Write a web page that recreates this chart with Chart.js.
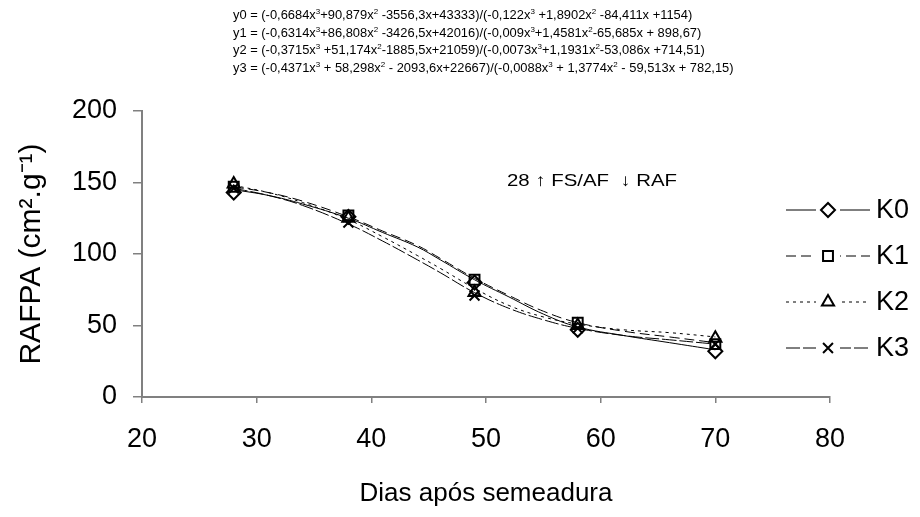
<!DOCTYPE html>
<html>
<head>
<meta charset="utf-8">
<script src="https://cdn.jsdelivr.net/npm/chart.js@4.4.1/dist/chart.umd.min.js"></script>
<style>
  html, body { margin: 0; padding: 0; background: #fff; }
  #wrap { position: relative; width: 920px; height: 517px; }
  #eq {
    position: absolute; left: 233px; top: 6px;
    font-family: "Liberation Sans", Arial, sans-serif; font-size: 12.9px; line-height: 17.5px;
    color: #000; white-space: nowrap;
  }
  #eq sup { font-size: 8px; line-height: 0; vertical-align: 5px; }
  #nota {
    position: absolute; left: 507px; top: 171px;
    font-family: "Liberation Sans", Arial, sans-serif; font-size: 17px; color: #000; white-space: nowrap;
    transform: scaleX(1.2); transform-origin: left top;
  }
</style>
</head>
<body>
<div id="wrap">
  <canvas id="myChart" width="920" height="517"></canvas>
  <div id="eq">
    <div>y0 = (-0,6684x<sup>3</sup>+90,879x<sup>2</sup> -3556,3x+43333)/(-0,122x<sup>3</sup> +1,8902x<sup>2</sup> -84,411x +1154)</div>
    <div>y1 = (-0,6314x<sup>3</sup>+86,808x<sup>2</sup> -3426,5x+42016)/(-0,009x<sup>3</sup>+1,4581x<sup>2</sup>-65,685x + 898,67)</div>
    <div>y2 = (-0,3715x<sup>3</sup> +51,174x<sup>2</sup>-1885,5x+21059)/(-0,0073x<sup>3</sup>+1,1931x<sup>2</sup>-53,086x +714,51)</div>
    <div>y3 = (-0,4371x<sup>3</sup> + 58,298x<sup>2</sup> - 2093,6x+22667)/(-0,0088x<sup>3</sup> + 1,3774x<sup>2</sup> - 59,513x + 782,15)</div>
  </div>
  <div id="nota">28 ↑ FS/AF&nbsp; ↓ RAF</div>
</div>
<script>
// dados observados
const dias = [28, 38, 49, 58, 70];
const k0 = [143, 126, 80, 47, 32];
const k1 = [147, 127, 82, 52, 37];
const k2 = [149, 125, 73, 50, 41];
const k3 = [146, 122, 71, 48, 37];

// curvas ajustadas
const curvaX = [28, 31, 34, 38, 41, 44, 46, 49, 52, 55, 58, 62, 66, 70];
const curvaK0 = [145, 141, 135, 125, 115, 105, 96, 82, 70, 58, 49, 43, 38, 33];
const curvaK1 = [147, 143, 137, 126, 116, 106, 97, 83, 71, 60, 52, 46, 42, 38];
const curvaK2 = [148, 143, 136, 124, 112, 99, 90, 76, 64, 56, 51, 47, 45, 42];
const curvaK3 = [146, 141, 134, 121, 109, 96, 87, 73, 62, 54, 48, 43, 40, 37];

const nomes = ["K0", "K1", "K2", "K3"];
const marcadores = ["rectRot", "rect", "triangle", "crossRot"];
const tracos = [[], [10, 5], [3, 4], [14, 3]];

const pontos = (xs, ys) => xs.map((x, i) => ({ x: x, y: ys[i] }));

const serieObs = [k0, k1, k2, k3];
const serieCurva = [curvaK0, curvaK1, curvaK2, curvaK3];

let datasets = [];
for (let i = 0; i < 4; i++) {
  datasets.push({
    label: nomes[i] + " ajuste",
    data: pontos(curvaX, serieCurva[i]),
    showLine: true,
    borderColor: "#000",
    borderWidth: 1,
    borderDash: tracos[i],
    pointRadius: 0,
    tension: 0.4,
    order: 2,
  });
}
for (let i = 0; i < 4; i++) {
  datasets.push({
    label: nomes[i],
    data: pontos(dias, serieObs[i]),
    showLine: false,
    pointStyle: marcadores[i],
    pointRadius: 7,
    pointBorderWidth: 2,
    pointBorderColor: "#000",
    pointBackgroundColor: "rgba(255,255,255,0)",
    order: 1,
  });
}

// legenda desenhada a mao: linha + marcador + texto
const legendaManual = {
  id: "legendaManual",
  afterDraw(chart) {
    const ctx = chart.ctx;
    const ys = [210, 256, 302, 348];
    for (let i = 0; i < 4; i++) {
      const y = ys[i];
      ctx.save();
      ctx.strokeStyle = "#000";
      ctx.lineWidth = 1;
      ctx.setLineDash(tracos[i]);
      ctx.beginPath();
      ctx.moveTo(786, y);
      ctx.lineTo(870, y);
      ctx.stroke();
      ctx.setLineDash([]);
      ctx.fillStyle = "#fff";
      ctx.fillRect(816, y - 10, 24, 20);
      ctx.strokeStyle = "#000";
      ctx.lineWidth = 2;
      Chart.helpers.drawPoint(ctx, { pointStyle: marcadores[i], radius: 7, rotation: 0, borderWidth: 2 }, 828, y);
      ctx.fillStyle = "#000";
      ctx.font = "27px 'Liberation Sans', Arial, sans-serif";
      ctx.textBaseline = "middle";
      ctx.fillText(nomes[i], 876, y + 1);
      ctx.restore();
    }
  },
};

const fonteEixo = { family: "'Liberation Sans', Arial, sans-serif", size: 27 };

const config = {
  type: "scatter",
  data: { datasets: datasets },
  options: {
    responsive: false,
    animation: false,
    layout: { padding: { top: 111, right: 90, left: 0, bottom: 0 } },
    plugins: { legend: { display: false }, tooltip: { enabled: false } },
    scales: {
      x: {
        type: "linear",
        min: 20,
        max: 80,
        afterFit: (s) => { s.height = 120; },
        ticks: { stepSize: 10, color: "#000", font: fonteEixo, padding: 20 },
        grid: { drawOnChartArea: false, color: "#808080", lineWidth: 1.5, tickLength: 6 },
        border: { color: "#808080", width: 2 },
        title: {
          display: true,
          text: "Dias após semeadura",
          color: "#000",
          font: { family: "'Liberation Sans', Arial, sans-serif", size: 26 },
          padding: { top: 0, bottom: 8 },
        },
      },
      y: {
        min: 0,
        max: 200,
        afterFit: (s) => { s.width = 142; },
        ticks: { stepSize: 50, color: "#000", font: fonteEixo, padding: 16 },
        grid: { drawOnChartArea: false, color: "#808080", lineWidth: 1.5, tickLength: 9 },
        border: { color: "#808080", width: 2 },
        title: {
          display: true,
          text: "RAFPA (cm².g⁻¹)",
          color: "#000",
          font: { family: "'Liberation Sans', Arial, sans-serif", size: 30 },
          padding: { top: 14, bottom: 0 },
        },
      },
    },
  },
  plugins: [legendaManual],
};

new Chart(document.getElementById("myChart"), config);
</script>
</body>
</html>
